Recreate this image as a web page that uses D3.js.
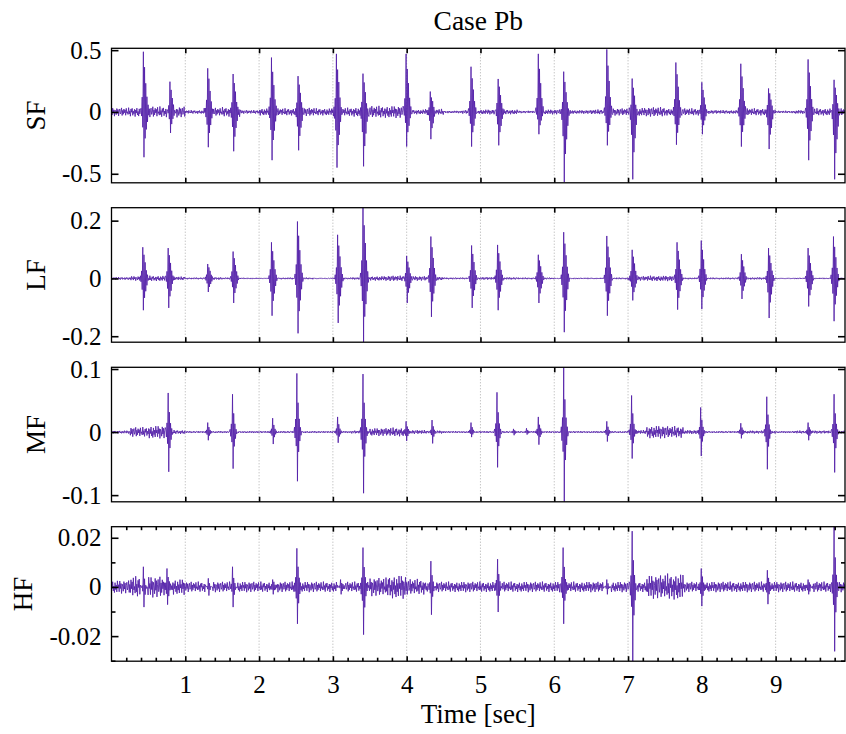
<!DOCTYPE html>
<html><head><meta charset="utf-8">
<script src="https://cdn.jsdelivr.net/npm/d3@7"></script>
<style>
body{margin:0;background:#fff}
text{font-family:"Liberation Serif","Times New Roman",serif;fill:#000}
</style>
</head><body>
<svg id="chart" width="846" height="734"></svg>
<script>
// ---------------- DATA ----------------
const titleText = "Case Pb";
const xLabelText = "Time [sec]";
const panelNames = ["SF", "LF", "MF", "HF"];
const timeDomain = [0, 9.94];
const timeTicks = [1, 2, 3, 4, 5, 6, 7, 8, 9];

const sfDomain = [-0.573, 0.515];
const lfDomain = [-0.2207, 0.2448];
const mfDomain = [-0.1106, 0.1027];
const hfDomain = [-0.0302, 0.0245];

const sfTicks = [-0.5, 0, 0.5];
const lfTicks = [-0.2, 0, 0.2];
const mfTicks = [-0.1, 0, 0.1];
const hfTicks = [-0.02, 0, 0.02];
const hfMinorTicks = [-0.03, -0.01, 0.01];
const sfTickLabels = ["-0.5", "0", "0.5"];
const lfTickLabels = ["-0.2", "0", "0.2"];
const mfTickLabels = ["-0.1", "0", "0.1"];
const hfTickLabels = ["-0.02", "0", "0.02"];

// bursts: [time (s), positive peak, negative peak]
const sfBursts = [
  [0.43,0.487,-0.366],[0.79,0.245,-0.17],[1.30,0.353,-0.285],[1.65,0.307,-0.318],
  [2.17,0.44,-0.39],[2.53,0.29,-0.31],[3.05,0.47,-0.45],[3.41,0.31,-0.44],
  [3.99,0.47,-0.28],[4.32,0.165,-0.22],[4.87,0.366,-0.28],[5.24,0.267,-0.27],
  [5.78,0.47,-0.18],[6.13,0.326,-0.567],[6.71,0.506,-0.27],[7.06,0.27,-0.545],
  [7.65,0.40,-0.265],[8.00,0.24,-0.18],[8.53,0.39,-0.28],[8.90,0.19,-0.30],
  [9.44,0.425,-0.39],[9.79,0.26,-0.545]
];
const lfBursts = [
  [0.42,0.108,-0.110],[0.77,0.105,-0.102],[1.30,0.05,-0.047],[1.65,0.093,-0.085],
  [2.17,0.125,-0.129],[2.52,0.197,-0.19],[3.06,0.151,-0.154],[3.41,0.244,-0.22],
  [4.00,0.078,-0.085],[4.33,0.145,-0.133],[4.88,0.114,-0.102],[5.23,0.116,-0.11],
  [5.78,0.082,-0.085],[6.13,0.16,-0.186],[6.71,0.147,-0.129],[7.06,0.099,-0.076],
  [7.66,0.125,-0.108],[7.99,0.131,-0.106],[8.54,0.084,-0.071],[8.90,0.105,-0.137],
  [9.44,0.105,-0.097],[9.78,0.145,-0.148]
];
const mfBursts = [
  [0.77,0.062,-0.063],[1.30,0.015,-0.013],[1.64,0.06,-0.058],[2.18,0.022,-0.019],
  [2.51,0.093,-0.078],[3.06,0.024,-0.017],[3.41,0.092,-0.097],[3.99,0.017,-0.014],
  [4.34,0.019,-0.018],[4.87,0.015,-0.008],[5.22,0.063,-0.056],[5.45,0.005,-0.005],
  [5.62,0.006,-0.004],[5.78,0.024,-0.02],[6.13,0.1027,-0.1106],[6.71,0.017,-0.015],
  [7.05,0.058,-0.042],[7.98,0.039,-0.038],[8.53,0.014,-0.01],[8.88,0.056,-0.059],
  [9.44,0.015,-0.013],[9.79,0.06,-0.064]
];
const hfBursts = [
  [0.43,0.0082,-0.0082],[0.75,0.0075,-0.0072],[1.31,0.0035,-0.0035],[1.64,0.0082,-0.0082],
  [2.18,0.003,-0.003],[2.51,0.0157,-0.015],[3.10,0.003,-0.003],[3.41,0.016,-0.0194],
  [4.33,0.0105,-0.0113],[5.23,0.0113,-0.0102],[6.12,0.016,-0.015],[6.71,0.003,-0.003],
  [7.06,0.0227,-0.0302],[7.99,0.0075,-0.0078],[8.89,0.0068,-0.007],[9.44,0.003,-0.003],
  [9.79,0.0245,-0.0262]
];

// background noise level per 0.25 s
const sfNoise = [0.035,0.04,0.045,0.045, 0.015,0.035,0.04,0.015, 0.03,0.03,0.035,0.03,
  0.035,0.04,0.05,0.05, 0.02,0.025,0.01,0.015, 0.02,0.02,0.01,0.02, 0.02,0.015,0.02,0.03,
  0.035,0.04,0.03,0.03, 0.015,0.015,0.03,0.03, 0.01,0.015,0.03,0.03];
const lfNoise = [0.006,0.01,0.012,0.008, 0.004,0.006,0.004,0.003, 0.002,0.004,0.004,0.002,
  0.004,0.005,0.01,0.012, 0.01,0.008,0.004,0.004, 0.006,0.005,0.004,0.004, 0.002,0.003,0.003,0.004,
  0.01,0.012,0.012,0.004, 0.004,0.004,0.005,0.005, 0.002,0.003,0.003,0.004];
const mfNoise = [0.003,0.01,0.013,0.004, 0.002,0.002,0.002,0.002, 0.002,0.002,0.002,0.002,
  0.002,0.003,0.008,0.009, 0.004,0.003,0.002,0.002, 0.002,0.002,0.002,0.002, 0.002,0.002,0.002,0.002,
  0.004,0.013,0.012,0.004, 0.002,0.002,0.003,0.003, 0.002,0.003,0.003,0.003];
const hfNoise = [0.0025,0.004,0.004,0.003, 0.002,0.002,0.002,0.002, 0.002,0.002,0.002,0.002,
  0.002,0.002,0.0035,0.0045, 0.003,0.002,0.002,0.002, 0.002,0.002,0.002,0.002, 0.002,0.002,0.002,0.002,
  0.002,0.0045,0.005,0.002, 0.002,0.002,0.002,0.002, 0.002,0.002,0.002,0.002];

// normalized waveform shapes (hand typed), peak pair at index 4/5
const wideShape = [0.08,-0.12,0.25,-0.35,1.0,-1.0,0.75,-0.6,0.5,-0.4,0.25,-0.2,0.1,-0.06];
const sharpShape = [0.08,-0.12,0.22,-0.28,1.0,-1.0,0.5,-0.4,0.22,-0.18,0.08,-0.06];
const noiseShape = [0.32,-0.71,0.88,-0.24,0.51,-0.97,0.43,0.12,-0.63,0.79,-0.31,0.58,-0.92,0.21,
  0.69,-0.44,-0.09,0.94,-0.81,0.37,-0.52,0.66,-0.17,0.47,-0.76,0.84,-0.27,0.04,-0.57,0.99,-0.46,
  0.26,-0.86,0.61,-0.06,0.73,-0.68,0.16,-0.36,0.54,-0.93,0.41,-0.22,0.77,-0.59,0.11,-0.83,0.63,
  -0.39,0.29,-0.74,0.9,-0.14];

// ---------------- BUILD ----------------
const panels = [
  {name:"SF", domain:sfDomain, ticks:sfTicks, labels:sfTickLabels, bursts:sfBursts, noise:sfNoise, shape:wideShape, off:0, gain:1.0},
  {name:"LF", domain:lfDomain, ticks:lfTicks, labels:lfTickLabels, bursts:lfBursts, noise:lfNoise, shape:wideShape, off:17, gain:0.8},
  {name:"MF", domain:mfDomain, ticks:mfTicks, labels:mfTickLabels, bursts:mfBursts, noise:mfNoise, shape:sharpShape, off:29, gain:0.8},
  {name:"HF", domain:hfDomain, ticks:hfTicks, labels:hfTickLabels, bursts:hfBursts, noise:hfNoise, shape:sharpShape, off:41, gain:1.1}
];

const dt = 0.008;
const peakIdx = 4;
function buildSeries(p) {
  const n = Math.floor(timeDomain[1] / dt);
  const vals = new Array(n + 1);
  for (let i = 0; i <= n; i++) {
    const t = i * dt;
    const bin = Math.min(p.noise.length - 1, Math.floor(t / 0.25));
    vals[i] = noiseShape[(i + p.off) % noiseShape.length] * p.noise[bin] * p.gain;
  }
  p.bursts.forEach(([tb, up, dn]) => {
    const c = Math.round(tb / dt);
    p.shape.forEach((s, k) => {
      const i = c - peakIdx + k;
      if (i >= 0 && i <= n) {
        const v = s > 0 ? s * up : -s * dn;
        vals[i] = (k === peakIdx || k === peakIdx + 1) ? v : vals[i] * 0.3 + v;
      }
    });
  });
  return vals.map((v, i) => [i * dt, v]);
}

const svg = d3.select("#chart");
const left = 111.5, right = 845;
const tops = [48.3, 207.7, 367.3, 526.7];
const height = 134.5;
const x = d3.scaleLinear().domain(timeDomain).range([left, right]);
const lineColor = "#521ea8";

panels.forEach((p, pi) => {
  const top = tops[pi], bottom = top + height;
  const y = d3.scaleLinear().domain(p.domain).range([bottom, top]);
  const g = svg.append("g");

  g.selectAll(".grid").data(timeTicks).enter().append("line")
    .attr("x1", d => x(d)).attr("x2", d => x(d))
    .attr("y1", top).attr("y2", bottom)
    .attr("stroke", "#9a9a9a").attr("stroke-width", 0.8)
    .attr("stroke-dasharray", "1,2");

  const cid = "clip" + pi;
  svg.append("clipPath").attr("id", cid).append("rect")
    .attr("x", left).attr("y", top).attr("width", right - left).attr("height", height);

  const series = buildSeries(p);
  g.append("path").datum(series)
    .attr("clip-path", `url(#${cid})`)
    .attr("fill", "none").attr("stroke", lineColor).attr("stroke-width", 0.85)
    .attr("d", d3.line().x(d => x(d[0])).y(d => y(d[1])));

  const isLast = pi === panels.length - 1;
  g.append("g").attr("transform", `translate(${left},0)`)
    .call(d3.axisLeft(y).tickValues(p.ticks).tickFormat((d, i) => p.labels[i]).tickSize(-7).tickPadding(10));
  g.append("g").attr("transform", `translate(${right},0)`)
    .call(d3.axisRight(y).tickValues(p.ticks).tickFormat("").tickSize(-7));
  g.append("g").attr("transform", `translate(0,${top})`)
    .call(d3.axisTop(x).tickValues(timeTicks).tickFormat("").tickSize(-5));
  g.append("g").attr("transform", `translate(0,${bottom})`)
    .call(d3.axisBottom(x).tickValues(timeTicks).tickFormat(isLast ? d3.format("d") : "").tickSize(-5).tickPadding(14.5));

  if (isLast) {
    const minorX = d3.range(0.2, 9.9, 0.2).filter(v => Math.abs(v - Math.round(v)) > 0.05);
    g.append("g").attr("transform", `translate(0,${top})`)
      .call(d3.axisTop(x).tickValues(minorX).tickFormat("").tickSize(-3.5));
    g.append("g").attr("transform", `translate(0,${bottom})`)
      .call(d3.axisBottom(x).tickValues(minorX).tickFormat("").tickSize(-3.5));
    g.append("g").attr("transform", `translate(${left},0)`)
      .call(d3.axisLeft(y).tickValues(hfMinorTicks).tickFormat("").tickSize(-4));
    g.append("g").attr("transform", `translate(${right},0)`)
      .call(d3.axisRight(y).tickValues(hfMinorTicks).tickFormat("").tickSize(-4));
  }

  g.selectAll(".domain").remove();
  g.selectAll(".tick line").attr("stroke", "#000").attr("stroke-width", 1.6);
  g.selectAll(".tick text").style("font-size", "25px")
    .style("font-family", '"Liberation Serif","Times New Roman",serif').attr("fill", "#000");

  g.append("rect").attr("x", left).attr("y", top).attr("width", right - left).attr("height", height)
    .attr("fill", "none").attr("stroke", "#000").attr("stroke-width", 1.3);

  const lx = p.name === "HF" ? 32 : 45;
  g.append("text").attr("transform", `translate(${lx},${(top + bottom) / 2}) rotate(-90)`)
    .attr("text-anchor", "middle").style("font-size", "27px").text(p.name);
});

svg.append("text").attr("x", (left + right) / 2).attr("y", 30)
  .attr("text-anchor", "middle").style("font-size", "27.5px").text(titleText);
svg.append("text").attr("x", (left + right) / 2).attr("y", 723)
  .attr("text-anchor", "middle").style("font-size", "27px").text(xLabelText);
</script>
</body></html>
